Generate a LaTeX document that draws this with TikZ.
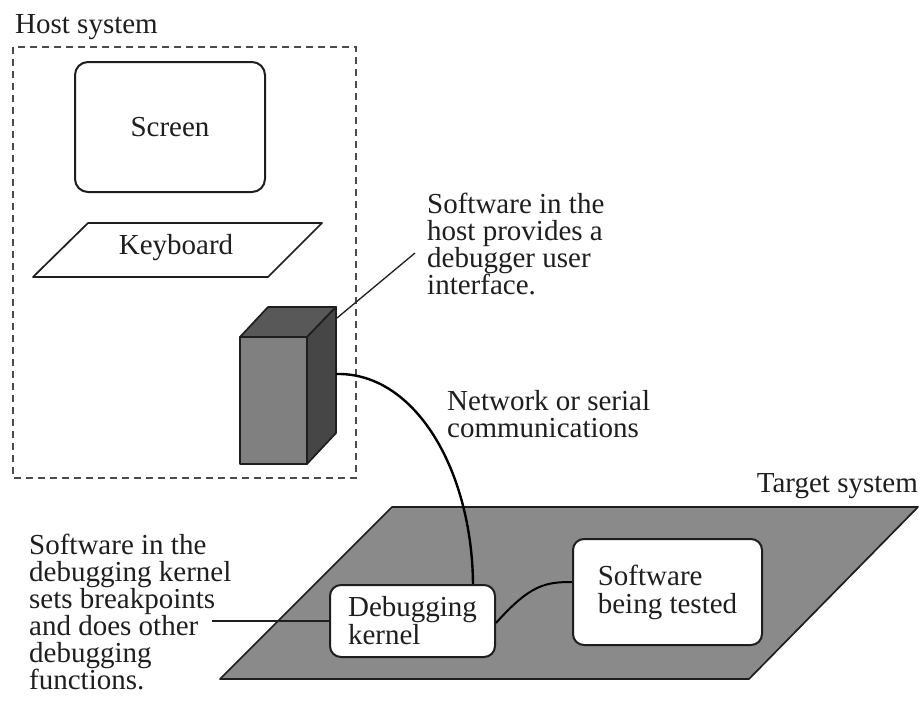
\documentclass[tikz,border=0pt]{standalone}
\usepackage{fontspec}
\setmainfont{Liberation Serif}
\usetikzlibrary{calc}
\definecolor{planegray}{RGB}{138,138,138}
\definecolor{frontgray}{RGB}{128,128,128}
\definecolor{topgray}{RGB}{88,88,88}
\definecolor{sidegray}{RGB}{70,70,70}
\definecolor{inkgray}{RGB}{30,30,30}
\begin{document}
\begin{tikzpicture}[x=1pt,y=-1pt,
  label text/.style={font=\fontsize{29}{27}\selectfont, inner sep=0pt, align=left, text=inkgray},
  softbox/.style={draw=inkgray, line width=2pt, fill=white, rounded corners=11pt,
                  font=\fontsize{29}{28}\selectfont, align=left, text=inkgray, inner sep=0pt},
  hostframe/.style={draw=inkgray!80, line width=1.6pt, dash pattern=on 7pt off 5pt},
  leader/.style={draw=inkgray, line width=1.3pt},
  cable/.style={draw=black, line width=2.4pt},
  solid edge/.style={draw=inkgray, line width=1.7pt, line join=round}]
\useasboundingbox (0,0) rectangle (922,704);

% ---------------- host system ----------------
\node[label text, anchor=base west] (hostlabel) at (15,33) {Host system};
\draw[hostframe] (13,47) rectangle (356,478);

\node[softbox, minimum width=190pt, minimum height=130pt, rounded corners=13pt] (screen) at (170,127) {Screen};

\draw[solid edge, fill=white] (88,223) -- (322,223) -- (268,277) -- (33,277) -- cycle;
\node[label text] (keyboard) at (176,248) {Keyboard};

% computer tower
\draw[solid edge, fill=frontgray] (240,337) rectangle (307,464);
\draw[solid edge, fill=topgray] (240,337) -- (268,307) -- (336,307) -- (307,337) -- cycle;
\draw[solid edge, fill=sidegray] (307,337) -- (336,307) -- (336,433) -- (307,464) -- cycle;
\coordinate (towertop) at (337,318);
\coordinate (towerport) at (336,374);

% multi-line labels: the base anchor sits on the last line
\coordinate (hostnote) at (415,253);
\node[label text, anchor=base west] (hosttext) at (427,294)
  {Software in the\\host provides a\\debugger user\\interface.};
\draw[leader] (towertop) -- (hostnote);

\node[label text, anchor=base west] (nettext) at (447,437)
  {Network or serial\\communications};

% ---------------- target system ----------------
\node[label text, anchor=base east] (targetlabel) at (918,492) {Target system};
\draw[solid edge, fill=planegray] (392,507) -- (918,507) -- (749,679) -- (220,679) -- cycle;

\node[softbox, minimum width=165pt, minimum height=72pt] (kernel) at (412.5,621)
  {Debugging\\kernel};
\node[softbox, minimum width=189pt, minimum height=106pt] (sut) at (667.5,592)
  {Software\\being tested};

\node[label text, anchor=base west] (kerneltext) at (29,689)
  {Software in the\\debugging kernel\\sets breakpoints\\and does other\\debugging\\functions.};
\coordinate (kernelnote) at (212,621);
\draw[leader] (kernelnote) -- (kernel.west);

% links
\draw[cable] (towerport) .. controls (415,372) and (472,470) .. ($(kernel.north east)+(-23,0)$);
\draw[cable, line width=2pt] ($(kernel.east)+(0,2)$) .. controls (530,585) and (545,582) .. ($(sut.west)+(0,-10)$);
\end{tikzpicture}
\end{document}
